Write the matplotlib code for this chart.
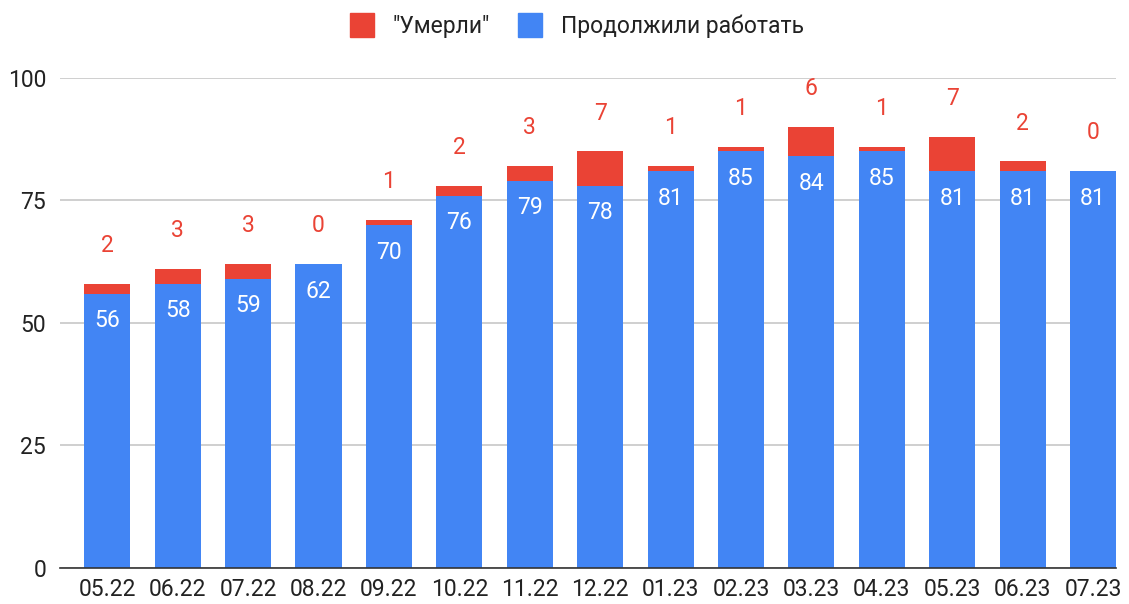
import matplotlib.pyplot as plt
from matplotlib.lines import Line2D

months = ["05.22", "06.22", "07.22", "08.22", "09.22", "10.22", "11.22", "12.22",
          "01.23", "02.23", "03.23", "04.23", "05.23", "06.23", "07.23"]
continued = [56, 58, 59, 62, 70, 76, 79, 78, 81, 85, 84, 85, 81, 81, 81]
died = [2, 3, 3, 0, 1, 2, 3, 7, 1, 1, 6, 1, 7, 2, 0]
y_ticks = [0, 25, 50, 75, 100]

blue = "#4285F4"
red = "#EA4335"

plt.rcParams['font.family'] = ['Roboto', 'DejaVu Sans']
fs = 16.5

fig = plt.figure(figsize=(11.29, 6.04), dpi=100)
ax = fig.add_axes([0.0531, 0.0596, 0.9354, 0.8113])

x = list(range(len(months)))
ax.bar(x, continued, width=0.655, color=blue, zorder=2)
ax.bar(x, died, width=0.655, bottom=continued, color=red, zorder=2)

for i in x:
    ax.annotate(str(continued[i]), (i, continued[i]), xytext=(0, -19.5),
                textcoords="offset points", ha="center", va="center",
                color="white", fontsize=fs, zorder=3)
    ax.annotate(str(died[i]), (i, continued[i] + died[i]), xytext=(0, 27.5),
                textcoords="offset points", ha="center", va="center",
                color=red, fontsize=fs, zorder=3)

ax.set_xlim(-0.673, 14.327)
ax.set_ylim(0, 100)
ax.set_yticks(y_ticks)
ax.set_xticks(x)
ax.set_xticklabels(months)
ax.tick_params(axis="both", length=0, labelsize=fs, labelcolor="#222222")
ax.tick_params(axis="y", pad=10)
ax.tick_params(axis="x", pad=7)
ax.grid(axis="y", color="#cccccc", linewidth=1.3, zorder=0)
ax.set_axisbelow(True)
for side in ["top", "right", "left"]:
    ax.spines[side].set_visible(False)
ax.spines["bottom"].set_color("#333333")
ax.spines["bottom"].set_linewidth(1.2)
ax.spines["bottom"].set_zorder(4)

handles = [
    Line2D([], [], marker="s", linestyle="", markersize=17, color=red),
    Line2D([], [], marker="s", linestyle="", markersize=17, color=blue),
]
fig.legend(handles, ['"Умерли"', "Продолжили работать"], loc="upper center",
           bbox_to_anchor=(0.506, 1.01), ncol=2, frameon=False, fontsize=fs,
           handletextpad=0.35, columnspacing=0.75, labelcolor="#222222")

fig.savefig("out.png", dpi=100)
